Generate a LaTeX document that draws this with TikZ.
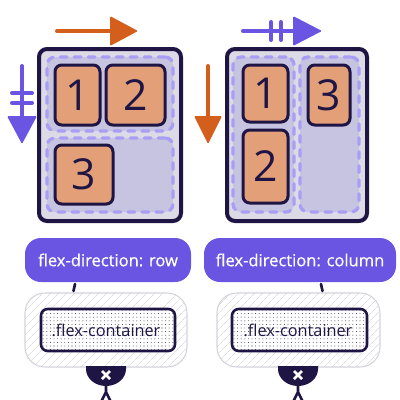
\documentclass[tikz,border=0pt]{standalone}
\usepackage{fontspec}
\setmainfont{Open Sans}
\newfontfamily\pillfont[FakeBold=0.5]{Open Sans}
\usetikzlibrary{patterns.meta}
\definecolor{dark}{HTML}{1E1545}
\definecolor{itemfill}{HTML}{E39F78}
\definecolor{boxfill}{HTML}{DCDBE5}
\definecolor{regfill}{HTML}{C6C4E0}
\definecolor{dashcol}{HTML}{A99EF5}
\definecolor{orangec}{HTML}{D45F1C}
\definecolor{purplec}{HTML}{6A55E2}
\definecolor{hatchcol}{HTML}{DEDDE4}
\definecolor{hatchborder}{HTML}{D4D3DC}
\definecolor{dotcol}{HTML}{4A4460}
\tikzset{
  outerbox/.style={draw=dark, line width=3pt, fill=boxfill, rounded corners=6pt, inner sep=0pt},
  region/.style={draw=dashcol, line width=2.5pt, fill=regfill, rounded corners=6pt, dash pattern=on 5pt off 5.5pt, line cap=round, inner sep=0pt},
  itembox/.style={draw=dark, line width=2.25pt, fill=itemfill, rounded corners=5pt, inner sep=0pt, font=\fontsize{32}{32}\selectfont, text=dark},
  pill/.style={fill=purplec, rounded corners=12pt, inner sep=0pt, text=white, font=\pillfont\fontsize{12.4}{14}\selectfont},
  hatchbox/.style={draw=hatchborder, line width=0.8pt, rounded corners=15pt, inner sep=0pt, fill=white, pattern={Lines[angle=45,distance=4pt,line width=0.5pt]}, pattern color=hatchcol},
  innerbox/.style={draw=dark, line width=1.9pt, rounded corners=5pt, inner sep=0pt, pattern={Dots[distance=2.7pt,radius=0.38pt]}, pattern color=dotcol},
  labeltext/.style={text=dark, font=\fontsize{12.2}{14}\selectfont},
  arrline/.style={line width=3pt, line cap=round},
  tick/.style={draw=dark, line width=2pt, line cap=round},
}
\begin{document}
\begin{tikzpicture}[x=0.75pt,y=-0.75pt]
\useasboundingbox (0,0) rectangle (400,400);
% left container
\node[outerbox, minimum width=106.5pt, minimum height=129pt] (L) at (110,135) {};
\node[region, minimum width=94.5pt, minimum height=55.5pt] (Lr1) at (110,94) {};
\node[region, minimum width=94.5pt, minimum height=55.5pt] (Lr2) at (110,175) {};
\node[itembox, minimum width=33.75pt, minimum height=45pt] (L1) at (77.5,95) {1};
\node[itembox, minimum width=44.25pt, minimum height=45pt] (L2) at (135.5,95) {2};
\node[itembox, minimum width=43.5pt, minimum height=44.25pt] (L3) at (84,174.5) {3};
% right container
\node[outerbox, minimum width=105pt, minimum height=129pt] (R) at (297,135) {};
\node[region, minimum width=45.75pt, minimum height=116.25pt] (Rc1) at (263.5,134.5) {};
\node[region, minimum width=44.25pt, minimum height=116.25pt] (Rc2) at (329.5,134.5) {};
\node[itembox, minimum width=33.75pt, minimum height=42.75pt] (R1) at (265.5,93.5) {1};
\node[itembox, minimum width=33.75pt, minimum height=54.75pt] (R2) at (265.5,166.5) {2};
\node[itembox, minimum width=31.5pt, minimum height=45pt] (R3) at (329,95) {3};
% arrows left picture
\draw[arrline, orangec] (57,31) -- (112,31);
\fill[orangec, rounded corners=1pt] (110,16) -- (138,31) -- (110,46) -- cycle;
\draw[arrline, purplec] (22,66) -- (22,118);
\draw[arrline, purplec] (12,93) -- (32,93);
\draw[arrline, purplec] (12,103) -- (32,103);
\fill[purplec, rounded corners=1pt] (7,116) -- (22,144) -- (37,116) -- cycle;
% arrows right picture
\draw[arrline, purplec] (243,31) -- (295,31);
\draw[arrline, purplec] (271,22) -- (271,40);
\draw[arrline, purplec] (281,22) -- (281,40);
\fill[purplec, rounded corners=1pt] (293,16) -- (322,31) -- (293,46) -- cycle;
\draw[arrline, orangec] (208,66) -- (208,118);
\fill[orangec, rounded corners=1pt] (194,116) -- (208,144) -- (222,116) -- cycle;
% pills
\node[pill, minimum width=124.5pt, minimum height=33pt] (P1) at (108,260) {flex-direction: row};
\node[pill, minimum width=144pt, minimum height=33pt] (P2) at (300,260) {flex-direction: column};
% hatched boxes
\node[hatchbox, minimum width=121.5pt, minimum height=55.5pt] (H1) at (106,330) {};
\node[hatchbox, minimum width=122.25pt, minimum height=55.5pt] (H2) at (298.5,330) {};
\fill[white, rounded corners=5pt] (41,309) rectangle (175,351);
\fill[white, rounded corners=5pt] (232,309) rectangle (367,351);
\node[innerbox, minimum width=100.5pt, minimum height=31.5pt] (I1) at (108,330) {};
\node[labeltext] (T1) at (106,330) {.flex-container};
\node[innerbox, minimum width=101.25pt, minimum height=31.5pt] (I2) at (299.5,330) {};
\node[labeltext] (T2) at (298,330) {.flex-container};
% ticks
\coordinate (t1a) at (75,284); \coordinate (t1b) at (73.5,291);
\coordinate (t2a) at (321,284); \coordinate (t2b) at (322.5,291);
\draw[tick] (t1a) -- (t1b);
\draw[tick] (t2a) -- (t2b);
% bowls
\foreach \cx/\nm in {106/B1, 298/B2}{
  \fill[dark] (\cx-20,366) -- (\cx-20,369) arc[start angle=180,end angle=0,x radius=20,y radius=17] -- (\cx+20,366) -- cycle;
  \coordinate (\nm) at (\cx,386);
  \draw[white, line width=1.9pt] (\cx-4,371) -- (\cx+4,379) (\cx+4,371) -- (\cx-4,379);
  \draw[dark, line width=2pt] (\cx,384) -- (\cx,392) -- (\cx-4.5,401) (\cx,392) -- (\cx+4.5,401);
}
\end{tikzpicture}
\end{document}
